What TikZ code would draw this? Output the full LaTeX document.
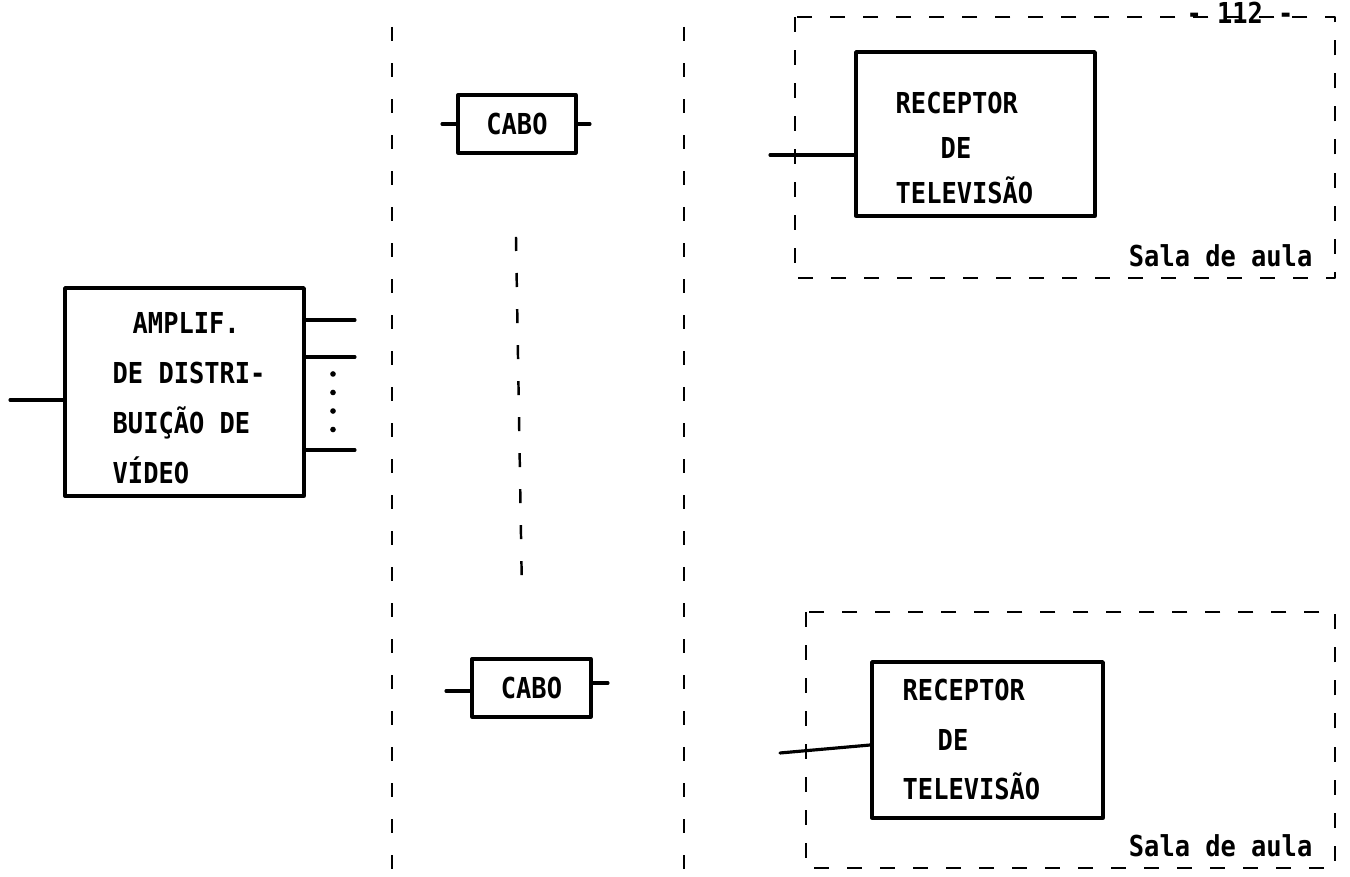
\documentclass[tikz,border=0pt]{standalone}
\usepackage{fontspec}
\setmonofont[FakeStretch=0.88]{DejaVu Sans Mono}
\begin{document}
\begin{tikzpicture}[x=0.01cm, y=-0.01cm, line join=round, line cap=round,
		font=\ttfamily\bfseries\fontsize{8.2}{14.2}\selectfont,
		blockbox/.style={draw, line width=0.9pt, inner sep=0pt},
		wire/.style={line width=0.9pt},
		divider/.style={line width=0.7pt, line cap=butt, dash pattern=on 0.14cm off 0.22cm},
		roomline/.style={line width=0.7pt, line cap=butt, dash pattern=on 0.15cm off 0.18cm},
		blocktext/.style={inner sep=0pt, align=left}]
				\useasboundingbox (0, 0) rectangle (1350, 877);
				% divisoes
				\draw[divider] (392, 27)--(392, 877); 
				\draw[divider] (684, 27)--(684, 877); 
				\draw[divider] (516, 237)--(522, 595); 
				% amplificador
				\node[blockbox, minimum width=2.39cm, minimum height=2.08cm] (amp) at (184.5, 392) {}; 
				\node[blocktext, anchor=north west] (amptext) at (112, 312)
				{\hspace*{0.2cm}AMPLIF.\\DE DISTRI-\\BUIÇÃO DE\\VÍDEO}; 
				\coordinate (ampin) at (10, 400); 
				\draw[wire] (ampin)--(ampin -| amp.west); 
				\foreach \yy/\nm in {320/1, 357/2, 450/3} {
					\coordinate (ampout\nm) at (355, \yy); 
					\draw[wire] (ampout\nm -| amp.east)--(ampout\nm); 
				}
				\draw[line width=1.6pt, dash pattern=on 0pt off 0.185cm] (333, 374)--(333, 432); 
				% cabos
				\node[blockbox, minimum width=1.18cm, minimum height=0.58cm] (cabotop) at (517, 124) {CABO}; 
				\coordinate (cabotopin) at (442, 124); 
				\coordinate (cabotopout) at (590, 124); 
				\draw[wire] (cabotopin)--(cabotop.west); 
				\draw[wire] (cabotop.east)--(cabotopout); 
				\node[blockbox, minimum width=1.19cm, minimum height=0.58cm] (cabobot) at (531.5, 688) {CABO}; 
				\coordinate (cabobotin) at (446, 691); 
				\coordinate (cabobotout) at (608, 683); 
				\draw[wire] (cabobotin)--(cabobotin -| cabobot.west); 
				\draw[wire] (cabobotout -| cabobot.east)--(cabobotout); 
				% salas de aula
				\draw[roomline] (795, 17) rectangle (1335, 278); 
				\draw[roomline] (806, 612) rectangle (1335, 868); 
				\node[inner sep=0pt, anchor=base east] (salatop) at (1313, 267) {Sala de aula}; 
				\node[inner sep=0pt, anchor=base east] (salabot) at (1313, 857) {Sala de aula}; 
				% receptores
				\node[blockbox, minimum width=2.39cm, minimum height=1.64cm] (rectop) at (975.5, 134) {}; 
				\node[blocktext, anchor=north west, font=\ttfamily\bfseries\fontsize{8.2}{12.8}\selectfont]
				(rectoptext) at (895, 91) {RECEPTOR\\\hspace*{0.45cm}DE\\TELEVISÃO}; 
				\coordinate (rectopin) at (770, 155); 
				\draw[wire] (rectopin)--(rectopin -| rectop.west); 
				\node[blockbox, minimum width=2.31cm, minimum height=1.56cm] (recbot) at (987.5, 740) {}; 
				\node[blocktext, anchor=north west] (recbottext) at (902, 678) {RECEPTOR\\\hspace*{0.35cm}DE\\TELEVISÃO}; 
				\coordinate (recbotin) at (780, 753); 
				\draw[wire] (recbotin)--([yshift=-0.05cm]recbot.west); 
				% pagina
				\node[inner sep=0pt] (pageno) at (1240, 13) {- 112 -}; 
			\end{tikzpicture}
\end{document}
